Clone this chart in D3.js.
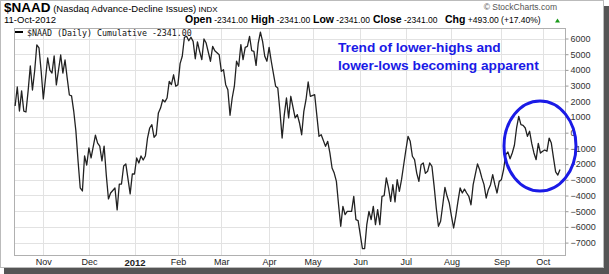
<!DOCTYPE html>
<html>
<head>
<meta charset="utf-8">
<script src="https://cdn.jsdelivr.net/npm/d3@7"></script>
<style>
  body { margin: 0; background: #fff; }
  svg { display: block; }
</style>
</head>
<body>
<div id="chart"></div>
<script>
// Width and height of the picture
var width = 609;
var height = 274;

// trading session number (0 = 13-Oct-2011) of each point
var sessions = [
  0, 1, 2, 3, 4, 5, 6, 7, 8, 9,
  10, 11, 12, 13, 15, 16, 17, 18, 19, 21,
  22, 23, 24, 25, 26, 27, 28, 29, 30, 31,
  32, 33, 34, 35, 37, 38, 39, 40, 41, 42,
  43, 44, 46, 47, 48, 49, 50, 51, 53, 54,
  55, 56, 57, 58, 59, 60, 61, 62, 63, 64,
  65, 66, 67, 68, 69, 70, 71, 72, 73, 74,
  75, 76, 77, 78, 79, 80, 81, 82, 83, 84,
  85, 86, 87, 88, 90, 91, 92, 94, 95, 96,
  97, 98, 99, 100, 101, 102, 103, 104, 105, 106,
  107, 108, 109, 110, 111, 112, 113, 114, 115, 116,
  117, 118, 120, 121, 122, 123, 124, 125, 126, 127,
  129, 130, 131, 132, 133, 134, 135, 136, 138, 140,
  141, 143, 144, 145, 146, 147, 148, 149, 150, 151,
  152, 153, 155, 156, 157, 158, 160, 161, 162, 163,
  164, 165, 166, 167, 168, 169, 170, 171, 172, 173,
  174, 175, 176, 177, 178, 179, 180, 181, 182, 183,
  184, 185, 186, 187, 188, 189, 190, 191, 192, 193,
  194, 195, 196, 197, 198, 199, 200, 201, 202, 203,
  204, 205, 206, 207, 208, 209, 210, 211, 213, 214,
  215, 216, 217, 218, 219, 220, 221, 222, 223, 224,
  225, 226, 227, 228, 229, 230, 231, 232, 233, 234,
  235, 236, 237, 238, 239, 240, 241, 242, 243, 244,
  245, 246, 247, 248, 249, 250, 251
];

// $NAAD cumulative advance-decline values for those sessions
var naad = [
  1700, 2910, 1380, 2660, 1380, 1320, 2660, 4250, 2720, 3930,
  5590, 5400, 3930, 2150, 4760, 3990, 3800, 4890, 3040, 4950,
  3800, 4630, 3480, 2400, 2340, 1380, 110, -1800, -3520, -3710,
  -1480, -2060, -970, -1610, -150, -660, -850, -1800, -850, -2690,
  -4220, -3840, -3520, -4920, -3270, -3270, -2120, -1990, -3900, -2630,
  -2630, -1610, -1930, -1480, -1740, -1480, -340, 300, 510, -290,
  -130, 1260, 1570, 2100, 1960, 2210, 3270, 3060, 3690, 2960,
  3060, 4400, 4870, 6080, 6140, 5860, 6080, 5820, 4710, 5780,
  5180, 4650, 5970, 5710, 4550, 5500, 5220, 4970, 3910, 4010,
  3060, 2740, 1110, 2210, 2960, 4550, 4230, 5610, 4650, 5440,
  5500, 6140, 5220, 5180, 4290, 5710, 6410, 5820, 4870, 4550,
  5440, 4550, 2960, 2850, 1360, -340, 1150, 2210, 940, 2320,
  940, 1150, 620, -130, 1360, 2100, 3230, 2320, 2420, -230,
  -130, -870, -550, -1290, -2250, -2570, -3100, -4590, -5960, -4690,
  -5220, -5010, -5010, -4050, -5540, -5600, -7390, -7390, -5860, -5010,
  -5540, -4690, -5860, -4900, -5860, -4050, -4010, -2880, -3520, -4370,
  -3310, -4410, -2990, -3730, -2990, -2040, -1100, -230, -550, -1500,
  -1720, -2570, -3100, -2040, -1930, -2590, -2460, -1930, -2140, -3390,
  -4800, -5960, -5640, -4590, -3480, -4050, -4480, -5320, -6070, -5300,
  -4370, -3520, -3840, -3590, -3840, -4050, -4590, -3310, -1990, -2360,
  -2880, -3310, -4160, -3630, -3310, -2670, -3310, -3840, -3100, -2990,
  -2360, -1400, -1230, -1660, -1290, -800, 300, 1040, 510, 470,
  300, -230, 90, -700, -1290, -1720, -680, -1300, -1180, -1100,
  -1180, -340, -660, -1600, -2500, -2700, -2341
];

var yTicks = [6000, 5000, 4000, 3000, 2000, 1000, 0, -1000, -2000, -3000, -4000, -5000, -6000, -7000];
var monthLabels = ["Nov", "Dec", "2012", "Feb", "Mar", "Apr", "May", "Jun", "Jul", "Aug", "Sep", "Oct"];
var holidays = ["2011-11-24", "2011-12-26", "2012-01-02", "2012-01-16", "2012-02-20",
                "2012-04-06", "2012-05-28", "2012-07-04", "2012-09-03"];

var titleSymbol = "$NAAD";
var titleName = "(Nasdaq Advance-Decline Issues)";
var titleExchange = "INDX";
var lastDate = "11-Oct-2012";
var quoteLabels = ["Open", "High", "Low", "Close", "Chg"];
var quoteValues = ["-2341.00", "-2341.00", "-2341.00", "-2341.00", "+493.00 (+17.40%)"];
var legendText = "$NAAD (Daily) Cumulative -2341.00";
var noteLines = ["Trend of lower-highs and", "lower-lows becoming apparent"];

// plot box
var plotLeft = 14, plotRight = 565, plotTop = 28, plotBottom = 255;

// trading calendar (weekdays minus market holidays)
var fmt = d3.utcFormat("%Y-%m-%d");
var tradingDays = d3.utcDay.range(new Date(Date.UTC(2011, 9, 13)), new Date(Date.UTC(2012, 9, 12)))
  .filter(function(d) { return d.getUTCDay() !== 0 && d.getUTCDay() !== 6 && holidays.indexOf(fmt(d)) < 0; });

// first session of every month
var monthStarts = [];
tradingDays.forEach(function(d, i) {
  if (i > 0 && d.getUTCMonth() !== tradingDays[i - 1].getUTCMonth()) monthStarts.push(i);
});

var x = d3.scaleLinear()
  .domain([0, tradingDays.length - 1])
  .range([15.1, 560]);

var y = d3.scaleLinear()
  .domain([-7000, 6000])
  .range([242.6, 38.5]);

var svg = d3.select("#chart")
  .append("svg")
  .attr("width", width)
  .attr("height", height)
  .style("font-family", "'Liberation Sans', Arial, sans-serif");

// frame with drop shadow
svg.append("rect")
  .attr("x", 4).attr("y", 6)
  .attr("width", 605).attr("height", 268)
  .attr("fill", "#555");
svg.append("rect")
  .attr("x", 0.5).attr("y", 0.5)
  .attr("width", 603).attr("height", 267)
  .attr("fill", "#fff")
  .attr("stroke", "#bbb");

// header
var title = svg.append("text").attr("x", 4).attr("y", 12);
title.append("tspan").text(titleSymbol)
  .attr("font-weight", "bold").attr("font-size", 13.5);
title.append("tspan").text(" " + titleName)
  .attr("font-size", 9.5);
title.append("tspan").text(" " + titleExchange)
  .attr("font-size", 8);

svg.append("text")
  .attr("x", 557).attr("y", 10)
  .attr("text-anchor", "end")
  .attr("font-size", 8.5)
  .attr("fill", "#555")
  .text("\u00a9 StockCharts.com");

svg.append("text")
  .attr("x", 4).attr("y", 23)
  .attr("font-size", 9.5)
  .text(lastDate);

var quoteX = [185, 251, 313, 373, 445];
quoteLabels.forEach(function(label, i) {
  var t = svg.append("text").attr("x", quoteX[i]).attr("y", 23);
  t.append("tspan").text(label).attr("font-weight", "bold").attr("font-size", 10.5);
  t.append("tspan").text(" " + quoteValues[i]).attr("font-size", 8.5);
});
svg.append("path")
  .attr("d", "M555,22.5 L560,22.5 L557.5,18.5 Z")
  .attr("fill", "#1a9a1a");

// grid
svg.append("g")
  .selectAll("line")
  .data(yTicks)
  .enter()
  .append("line")
  .attr("x1", plotLeft).attr("x2", plotRight)
  .attr("y1", function(d) { return Math.round(y(d)) + 0.5; })
  .attr("y2", function(d) { return Math.round(y(d)) + 0.5; })
  .attr("stroke", "#e2e2e2");

svg.append("g")
  .selectAll("line")
  .data(monthStarts)
  .enter()
  .append("line")
  .attr("y1", plotTop).attr("y2", plotBottom)
  .attr("x1", function(d) { return Math.round(x(d)) + 0.5; })
  .attr("x2", function(d) { return Math.round(x(d)) + 0.5; })
  .attr("stroke", "#e2e2e2");

// plot border
svg.append("rect")
  .attr("x", plotLeft + 0.5).attr("y", plotTop + 0.5)
  .attr("width", plotRight - plotLeft).attr("height", plotBottom - plotTop)
  .attr("fill", "none")
  .attr("stroke", "#b0b0b0");

// right axis
var yAxis = svg.append("g")
  .attr("transform", "translate(" + (plotRight + 0.5) + ",0)")
  .call(d3.axisRight(y).tickValues(yTicks).tickSize(3).tickPadding(2).tickFormat(d3.format("d")));
yAxis.select(".domain").remove();
yAxis.selectAll("line").attr("stroke", "#999");
yAxis.selectAll("text")
  .attr("font-size", 9)
  .attr("font-family", "'Liberation Sans', Arial, sans-serif")
  .attr("fill", "#333");

// bottom axis
var xAxis = svg.append("g")
  .attr("transform", "translate(0," + plotBottom + ")")
  .call(d3.axisBottom(x).tickValues(monthStarts).tickSize(0).tickPadding(4)
    .tickFormat(function(d, i) { return monthLabels[i]; }));
xAxis.select(".domain").remove();
xAxis.selectAll("text")
  .attr("font-size", function(d, i) { return monthLabels[i] === "2012" ? 9.5 : 9; })
  .attr("font-weight", function(d, i) { return monthLabels[i] === "2012" ? "bold" : "normal"; })
  .attr("font-family", "'Liberation Sans', Arial, sans-serif")
  .attr("fill", "#222");

// the A/D line
var line = d3.line()
  .x(function(d, i) { return x(sessions[i]); })
  .y(function(d) { return y(d); });

svg.append("path")
  .datum(naad)
  .attr("d", line)
  .attr("fill", "none")
  .attr("stroke", "#222")
  .attr("stroke-width", 1.3)
  .attr("stroke-linejoin", "round");

// legend
svg.append("line")
  .attr("x1", 15).attr("x2", 23)
  .attr("y1", 32).attr("y2", 32)
  .attr("stroke", "#000").attr("stroke-width", 2);
svg.append("text")
  .attr("x", 27).attr("y", 35.5)
  .attr("font-family", "'DejaVu Sans Mono', monospace")
  .attr("font-size", 8.3)
  .attr("fill", "#111")
  .text(legendText);

// annotation
svg.append("g")
  .selectAll("text")
  .data(noteLines)
  .enter()
  .append("text")
  .attr("x", 338)
  .attr("y", function(d, i) { return 52 + i * 18; })
  .attr("font-size", 13.7)
  .attr("font-weight", "bold")
  .attr("fill", "#1a1ae6")
  .text(function(d) { return d; });

svg.append("ellipse")
  .attr("cx", 540).attr("cy", 146)
  .attr("rx", 36).attr("ry", 45)
  .attr("fill", "none")
  .attr("stroke", "#1a1ae6")
  .attr("stroke-width", 3);
</script>
</body>
</html>
